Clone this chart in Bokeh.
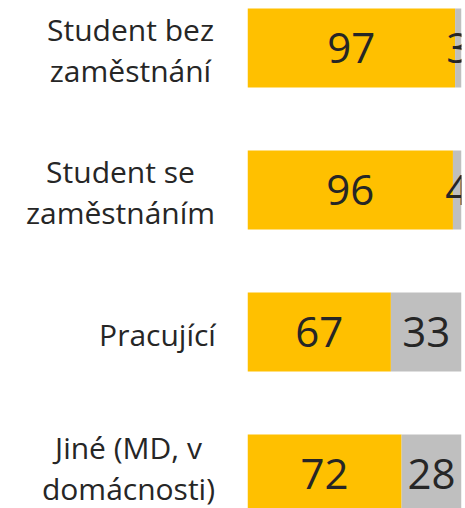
from bokeh.plotting import figure
from bokeh.models import Range1d, ColumnDataSource
from bokeh.layouts import row
from bokeh.core.properties import value
from bokeh.embed import file_html
from bokeh.resources import INLINE

categories = ["Student bez\nzaměstnání", "Student se\nzaměstnáním", "Pracující", "Jiné (MD, v\ndomácnosti)"]
yes_vals = [97, 96, 67, 72]
no_vals = [3, 4, 33, 28]

YELLOW = "#FFC000"
GRAY = "#BFBFBF"
TEXT = "#262626"
FONT = "Open Sans"

# layout / style constants
LEFT_W = 247
FRAME_W = 214
RIGHT_PAD = 4
H = 508
label_centres_px = [130, 120, 157, 128]
label_dy_px = [2, 2, 2, -6]

ys = list(range(len(categories)))
Y0, Y1 = 3.243, -0.335

src = ColumnDataSource(dict(
    y=ys,
    yes=yes_vals,
    zero=[0] * len(ys),
    right2=[a + b for a, b in zip(yes_vals, no_vals)],
    mid1=[v / 2 for v in yes_vals],
    mid2=[a + b / 2 for a, b in zip(yes_vals, no_vals)],
    t1=[str(v) for v in yes_vals],
    t2=[str(v) for v in no_vals],
))

# left figure: category labels
lab_src = ColumnDataSource(dict(x=label_centres_px, y=ys, text=categories, dy=label_dy_px))
pl = figure(width=LEFT_W, height=H, output_backend="svg", toolbar_location=None,
            x_range=Range1d(0, LEFT_W), y_range=Range1d(Y0, Y1),
            min_border=0)
pl.text(x="x", y="y", text="text", source=lab_src, y_offset="dy",
        text_align="center", text_baseline="middle",
        text_font=value(FONT), text_font_size="30px", text_color=TEXT, text_line_height=0.98)
pl.axis.visible = False
pl.grid.visible = False
pl.outline_line_color = None

# main figure: bars
p = figure(width=FRAME_W + RIGHT_PAD, height=H, output_backend="svg", toolbar_location=None,
           x_range=Range1d(0, 100), y_range=Range1d(Y0, Y1),
           min_border_left=0, min_border_right=RIGHT_PAD, min_border_top=0, min_border_bottom=0)

p.hbar(y="y", left="zero", right="yes", height=0.556, source=src, color=YELLOW, line_color=None)
p.hbar(y="y", left="yes", right="right2", height=0.556, source=src, color=GRAY, line_color=None)

for col, txt in (("mid1", "t1"), ("mid2", "t2")):
    p.text(x=col, y="y", text=txt, source=src, text_align="center", text_baseline="middle",
           text_font=value(FONT), text_font_size="42px", text_color=TEXT)

p.axis.visible = False
p.grid.visible = False
p.outline_line_color = None

layout = row(pl, p)
open("out.html", "w").write(file_html(layout, INLINE))
